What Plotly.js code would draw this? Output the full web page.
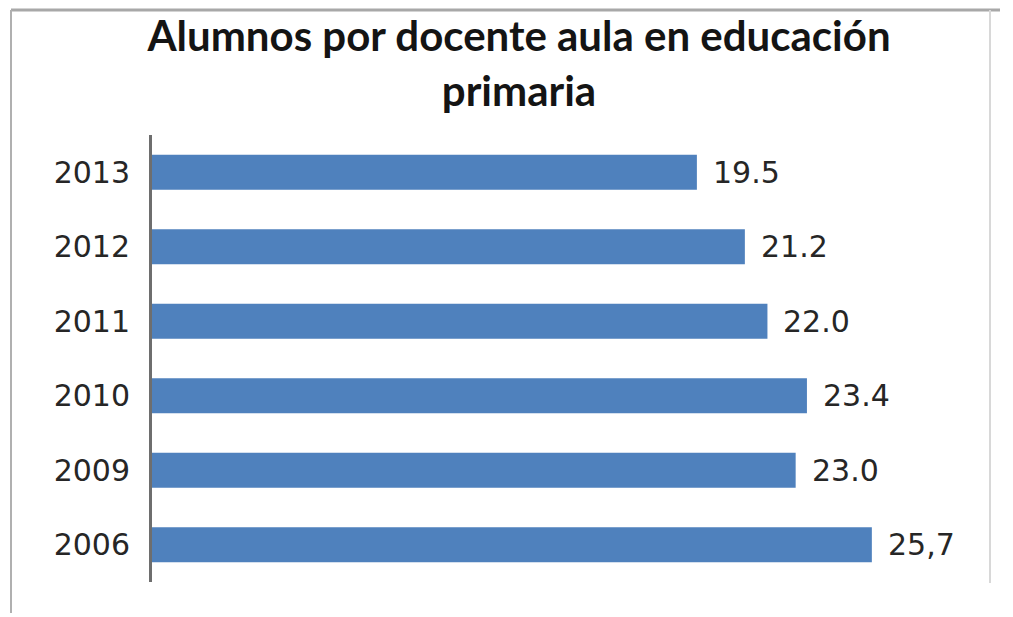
<!DOCTYPE html>
<html>
<head>
<meta charset="utf-8">
<script src="https://cdn.plot.ly/plotly-3.0.1.min.js"></script>
<style>html,body{margin:0;padding:0;background:#fff;}#chart{width:1013px;height:617px;}</style>
</head>
<body>
<div id="chart"></div>
<script>
const years = ["2013", "2012", "2011", "2010", "2009", "2006"];
const values = [19.5, 21.2, 22.0, 23.4, 23.0, 25.7];
const valueLabels = ["19.5", "21.2", "22.0", "23.4", "23.0", "25,7"];
const chartTitle = "Alumnos por docente aula en educación<br>primaria";

const W = 1013, H = 617;
const M = {l: 152, r: 28, t: 135, b: 35};
const pw = W - M.l - M.r, ph = H - M.t - M.b;
const px = x => (x - M.l) / pw;
const py = y => (H - M.b - y) / ph;

// bottom-to-top order for the category axis
const yOrder = years.slice().reverse();

const trace = {
  type: 'bar',
  orientation: 'h',
  y: years,
  x: values,
  marker: {color: '#4F81BD'},
  hoverinfo: 'none'
};

// annotations on a category axis: use the category index (year strings look numeric)
const annotations = years.map((yr, i) => ({
  x: values[i], y: yOrder.indexOf(yr), xref: 'x', yref: 'y',
  text: valueLabels[i], showarrow: false,
  xanchor: 'left', yanchor: 'middle', xshift: 14,
  font: {family: 'DejaVu Sans', size: 30, color: '#262626'}
}));

const shapes = [
  {type: 'line', xref: 'paper', yref: 'paper', x0: px(11), x1: px(1000), y0: py(10), y1: py(10), line: {color: '#a8a8a8', width: 3}},
  {type: 'line', xref: 'paper', yref: 'paper', x0: px(11), x1: px(11), y0: py(10), y1: py(613), line: {color: '#b0b0b0', width: 2}},
  {type: 'line', xref: 'paper', yref: 'paper', x0: px(990), x1: px(990), y0: py(10), y1: py(583), line: {color: '#d8d8d8', width: 2}}
];

const layout = {
  width: W, height: H,
  margin: M,
  paper_bgcolor: '#ffffff', plot_bgcolor: '#ffffff',
  showlegend: false,
  bargap: 0.53,
  title: {
    text: chartTitle,
    font: {family: 'Lato', size: 42, color: '#141414', weight: 'bold'},
    x: 519 / W, xref: 'container', xanchor: 'center',
    y: 1 - 51 / H, yref: 'container', yanchor: 'middle'
  },
  xaxis: {
    range: [0.19, 29.71],
    showgrid: false, zeroline: false, showline: false,
    showticklabels: false, ticks: '', fixedrange: true
  },
  yaxis: {
    type: 'category',
    categoryorder: 'array', categoryarray: yOrder,
    range: [-0.5, yOrder.length - 0.5],
    showgrid: false, zeroline: false,
    showline: true, linecolor: '#6e6e6e', linewidth: 3,
    ticks: '', ticklabelstandoff: 13,
    tickfont: {family: 'DejaVu Sans', size: 30, color: '#262626'},
    fixedrange: true
  },
  annotations: annotations,
  shapes: shapes
};

Plotly.newPlot('chart', [trace], layout, {displayModeBar: false, staticPlot: true});
</script>
</body>
</html>
